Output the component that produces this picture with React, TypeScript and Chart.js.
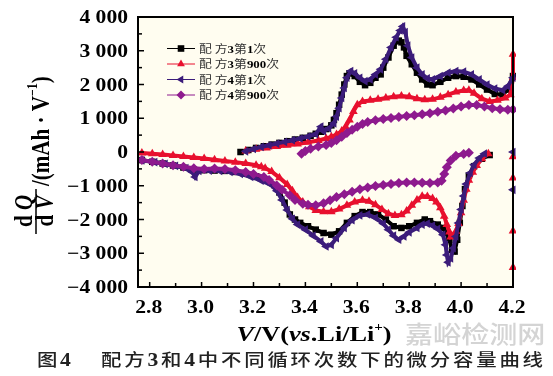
import React, { useEffect, useRef } from 'react';
import { Chart, registerables } from 'chart.js';

Chart.register(...registerables);

// ---------- axis ticks ----------
const xTicks = [2.8, 3.0, 3.2, 3.4, 3.6, 3.8, 4.0, 4.2];
const xMinorTicks = [2.9, 3.1, 3.3, 3.5, 3.7, 3.9, 4.1];
const yTicks = [-4000, -3000, -2000, -1000, 0, 1000, 2000, 3000, 4000];
const yMinorTicks = [-3500, -2500, -1500, -500, 500, 1500, 2500, 3500];

const seriesLabels = [
  ['配 方', '3', '第', '1', '次'],
  ['配 方', '3', '第', '900', '次'],
  ['配 方', '4', '第', '1', '次'],
  ['配 方', '4', '第', '900', '次'],
];

// ---------- data: [V, dQ/dV] ----------
// 配方3 第1次
const f3c1Charge = [[3.15,0],[3.18,60],[3.21,120],[3.24,170],[3.27,220],[3.30,270],[3.33,320],[3.36,370],[3.39,420],[3.42,480],[3.44,540],[3.46,600],[3.48,680],[3.50,790],[3.51,950],[3.52,1150],[3.53,1400],[3.54,1700],[3.55,2000],[3.56,2250],[3.57,2330],[3.59,2250],[3.61,2080],[3.63,1980],[3.65,2050],[3.67,2200],[3.69,2300],[3.70,2500],[3.72,2800],[3.74,3150],[3.76,3300],[3.77,3250],[3.78,3100],[3.79,2850],[3.81,2600],[3.83,2350],[3.85,2150],[3.87,2000],[3.89,1980],[3.92,2080],[3.95,2200],[3.98,2250],[4.01,2230],[4.04,2150],[4.07,2000],[4.10,1850],[4.13,1720],[4.16,1700],[4.18,1850],[4.20,2250]];
const f3c1Discharge = [[4.11,-90],[4.08,-200],[4.05,-420],[4.03,-700],[4.015,-1100],[4.005,-1600],[3.995,-2100],[3.985,-2600],[3.975,-2950],[3.965,-2900],[3.955,-2600],[3.945,-2400],[3.93,-2250],[3.91,-2150],[3.88,-2050],[3.86,-2000],[3.83,-2100],[3.80,-2200],[3.77,-2250],[3.74,-2200],[3.71,-2000],[3.68,-1850],[3.65,-1780],[3.62,-1780],[3.59,-1900],[3.56,-2100],[3.53,-2350],[3.50,-2450],[3.47,-2400],[3.44,-2300],[3.41,-2200],[3.38,-2100],[3.36,-2000],[3.34,-1850],[3.32,-1500],[3.30,-1200],[3.28,-980],[3.25,-830],[3.21,-720],[3.17,-640],[3.13,-590],[3.09,-560],[3.05,-550],[3.01,-540],[2.97,-520],[2.93,-460],[2.89,-400],[2.85,-340],[2.81,-290],[2.77,-240]];

// 配方3 第900次
const f3c900Charge = [[3.17,30],[3.21,80],[3.25,120],[3.29,160],[3.33,200],[3.37,240],[3.41,290],[3.45,340],[3.48,400],[3.50,450],[3.52,520],[3.54,620],[3.555,750],[3.57,950],[3.585,1200],[3.60,1400],[3.62,1500],[3.65,1530],[3.68,1560],[3.71,1600],[3.74,1640],[3.77,1660],[3.80,1640],[3.83,1580],[3.86,1550],[3.89,1560],[3.92,1620],[3.95,1700],[3.98,1780],[4.01,1820],[4.03,1830],[4.05,1740],[4.08,1580],[4.11,1500],[4.14,1530],[4.17,1600],[4.19,1700],[4.20,2200],[4.20,2900]];
const f3c900Edge = [[4.20,-140],[4.20,-770],[4.20,-2340],[4.20,-3420]];
const f3c900Discharge = [[4.105,-50],[4.08,-200],[4.06,-400],[4.045,-600],[4.03,-840],[4.02,-1100],[4.01,-1430],[4.00,-1800],[3.99,-2120],[3.98,-2350],[3.97,-2480],[3.96,-2520],[3.955,-2370],[3.945,-2150],[3.935,-1900],[3.92,-1650],[3.905,-1480],[3.89,-1380],[3.87,-1320],[3.85,-1310],[3.83,-1420],[3.81,-1580],[3.79,-1750],[3.77,-1860],[3.745,-1880],[3.72,-1830],[3.695,-1700],[3.67,-1560],[3.645,-1460],[3.62,-1430],[3.59,-1480],[3.56,-1580],[3.53,-1690],[3.50,-1770],[3.47,-1770],[3.44,-1730],[3.415,-1620],[3.39,-1480],[3.37,-1350],[3.35,-1150],[3.33,-960],[3.30,-760],[3.27,-580],[3.245,-480],[3.23,-440],[3.21,-390],[3.17,-340],[3.13,-300],[3.09,-265],[3.05,-230],[3.01,-195],[2.97,-160],[2.93,-130],[2.89,-100],[2.85,-75],[2.81,-50],[2.77,-30]];

// 配方4 第1次
const f4c1Charge = [[3.17,20],[3.20,90],[3.23,150],[3.26,200],[3.29,250],[3.32,300],[3.35,350],[3.38,400],[3.41,460],[3.44,530],[3.46,750],[3.47,620],[3.49,700],[3.51,850],[3.52,1050],[3.53,1300],[3.54,1600],[3.55,1900],[3.56,2200],[3.575,2400],[3.59,2330],[3.61,2200],[3.63,2100],[3.65,2150],[3.67,2300],[3.69,2450],[3.71,2750],[3.73,3100],[3.75,3400],[3.765,3600],[3.775,3720],[3.785,3550],[3.795,3150],[3.81,2800],[3.83,2500],[3.85,2300],[3.87,2180],[3.89,2150],[3.92,2250],[3.95,2350],[3.98,2400],[4.01,2380],[4.04,2300],[4.07,2150],[4.10,2000],[4.13,1880],[4.16,1830],[4.18,1950],[4.20,2200]];
const f4c1Edge = [[4.20,0],[4.20,-1120]];
const f4c1Discharge = [[4.09,-50],[4.07,-180],[4.05,-380],[4.035,-620],[4.02,-950],[4.01,-1300],[4.00,-1700],[3.99,-2100],[3.98,-2500],[3.97,-2850],[3.96,-3150],[3.95,-3270],[3.945,-3050],[3.94,-2750],[3.93,-2450],[3.91,-2280],[3.89,-2180],[3.87,-2120],[3.85,-2150],[3.83,-2250],[3.80,-2380],[3.78,-2500],[3.76,-2600],[3.74,-2480],[3.72,-2300],[3.70,-2120],[3.67,-1950],[3.64,-1850],[3.61,-1880],[3.58,-2020],[3.55,-2250],[3.52,-2550],[3.50,-2750],[3.48,-2800],[3.46,-2650],[3.43,-2480],[3.40,-2300],[3.37,-2150],[3.35,-1980],[3.33,-1720],[3.31,-1420],[3.29,-1150],[3.27,-980],[3.23,-850],[3.19,-740],[3.15,-650],[3.11,-590],[3.07,-560],[3.03,-550],[2.99,-560],[2.975,-740],[2.965,-600],[2.94,-480],[2.90,-410],[2.86,-350],[2.82,-300],[2.77,-250]];

// 配方4 第900次
const f4c900Charge = [[3.385,-50],[3.40,30],[3.42,100],[3.45,160],[3.48,210],[3.50,270],[3.52,350],[3.54,450],[3.56,560],[3.58,660],[3.60,750],[3.62,830],[3.64,890],[3.67,940],[3.70,980],[3.73,1010],[3.76,1040],[3.79,1070],[3.82,1090],[3.85,1120],[3.88,1150],[3.91,1190],[3.94,1230],[3.97,1290],[4.00,1350],[4.03,1390],[4.06,1390],[4.09,1350],[4.12,1300],[4.15,1270],[4.18,1250],[4.20,1260]];
const f4c900Discharge = [[4.03,-20],[4.01,-60],[3.98,-110],[3.96,-250],[3.945,-450],[3.935,-650],[3.925,-850],[3.91,-900],[3.88,-920],[3.85,-910],[3.82,-900],[3.79,-900],[3.76,-920],[3.73,-950],[3.70,-980],[3.67,-1010],[3.64,-1050],[3.61,-1100],[3.58,-1180],[3.55,-1250],[3.52,-1330],[3.495,-1430],[3.47,-1520],[3.44,-1580],[3.41,-1560],[3.39,-1530],[3.36,-1420],[3.34,-1280],[3.31,-1120],[3.29,-990],[3.26,-830],[3.24,-740],[3.20,-650],[3.17,-590],[3.13,-540],[3.09,-500],[3.05,-490],[3.01,-500],[2.97,-480],[2.93,-440],[2.89,-390],[2.85,-340],[2.81,-290],[2.77,-240]];

const colors = ['#000000', '#E8102E', '#3B1C7A', '#8E1A8E'];

const SERIF = '"Liberation Serif", "Times New Roman", serif';
const CJK = '"Noto Sans CJK SC", "Noto Sans", sans-serif';
const SX = 1.2;
const PLOT_BG = '#FFFDF0';

const pts = (arr: number[][]) => arr.map(([x, y]) => ({ x, y }));
const GAP = (x: number) => ({ x, y: null as any });
// isolated points (each separated by a gap, no connecting line)
const isolated = (arr: number[][]) => arr.flatMap(([x, y]) => [GAP(x), { x, y }]);

type Run = { t: string; f: string; dy?: number; c?: string };

function runsWidth(ctx: CanvasRenderingContext2D, runs: Run[]) {
  let w = 0;
  for (const r of runs) { ctx.font = r.f; w += ctx.measureText(r.t).width; }
  return w;
}
function drawRuns(ctx: CanvasRenderingContext2D, runs: Run[], x: number, y: number, sx: number, align: string, color = '#000') {
  const w = runsWidth(ctx, runs);
  ctx.save();
  ctx.translate(x, y);
  ctx.scale(sx, 1);
  let cx = align === 'left' ? 0 : align === 'center' ? -w / 2 : -w;
  ctx.textAlign = 'left';
  ctx.textBaseline = 'alphabetic';
  for (const r of runs) {
    ctx.font = r.f;
    ctx.fillStyle = r.c || color;
    ctx.fillText(r.t, cx, r.dy || 0);
    cx += ctx.measureText(r.t).width;
  }
  ctx.restore();
}

function fmtY(v: number) {
  if (v === 0) return '0';
  const a = Math.abs(v);
  const s = Math.floor(a / 1000) + ' ' + String(a % 1000).padStart(3, '0');
  return (v < 0 ? '\u2212' : '') + s;
}

function marker(ctx: CanvasRenderingContext2D, kind: number, x: number, y: number, color: string) {
  ctx.fillStyle = color;
  ctx.beginPath();
  const r = 4.5;
  if (kind === 0) {
    ctx.rect(x - 3.3, y - 3.3, 6.6, 6.6);
  } else if (kind === 1) {
    ctx.moveTo(x, y - r); ctx.lineTo(x + r * 0.866, y + r / 2); ctx.lineTo(x - r * 0.866, y + r / 2);
  } else if (kind === 2) {
    ctx.moveTo(x - r, y); ctx.lineTo(x + r / 2, y - r * 0.866); ctx.lineTo(x + r / 2, y + r * 0.866);
  } else {
    ctx.moveTo(x, y - r); ctx.lineTo(x + r, y); ctx.lineTo(x, y + r); ctx.lineTo(x - r, y);
  }
  ctx.closePath();
  ctx.fill();
}

const decorPlugin = {
  id: 'decor',
  beforeDraw(chart: any) {
    const { ctx, chartArea: a, width, height } = chart;
    ctx.save();
    ctx.fillStyle = '#ffffff';
    ctx.fillRect(0, 0, width, height);
    ctx.fillStyle = PLOT_BG;
    ctx.fillRect(a.left, a.top, a.right - a.left, a.bottom - a.top);
    ctx.restore();
  },
  afterDraw(chart: any) {
    const { ctx, chartArea: a, scales } = chart;
    const xs = scales.x, ys = scales.y;
    ctx.save();
    ctx.strokeStyle = '#000';
    ctx.lineWidth = 1.5;
    const seg = (x1: number, y1: number, x2: number, y2: number) => {
      ctx.beginPath(); ctx.moveTo(x1, y1); ctx.lineTo(x2, y2); ctx.stroke();
    };
    for (const v of yTicks) { const p = ys.getPixelForValue(v); seg(a.left, p, a.left + 6, p); }
    for (const v of yMinorTicks) { const p = ys.getPixelForValue(v); seg(a.left, p, a.left + 4, p); }
    for (const v of xTicks) { const p = xs.getPixelForValue(v); seg(p, a.bottom, p, a.bottom - 5); }
    for (const v of xMinorTicks) { const p = xs.getPixelForValue(v); seg(p, a.bottom, p, a.bottom - 4); }
    ctx.lineWidth = 2;
    ctx.strokeRect(a.left, a.top, a.right - a.left, a.bottom - a.top);

    // tick labels
    const tickFont = `bold 18px ${SERIF}`;
    for (const v of yTicks) {
      const p = ys.getPixelForValue(v);
      drawRuns(ctx, [{ t: fmtY(v), f: tickFont }], a.left - 10, p + 6, SX, 'right');
    }
    for (const v of xTicks) {
      const p = xs.getPixelForValue(v);
      drawRuns(ctx, [{ t: v.toFixed(1), f: tickFont }], p - 1, a.bottom + 26, SX, 'center');
    }

    // x title
    const tb = `bold 21px ${SERIF}`, ti = `italic bold 21px ${SERIF}`, ts = `bold 12px ${SERIF}`;
    drawRuns(ctx, [
      { t: 'V', f: ti }, { t: '/V(', f: tb }, { t: 'vs', f: ti }, { t: '.Li/Li', f: tb },
      { t: '+', f: ts, dy: -10 }, { t: ')', f: tb },
    ], 314, 341, 1.25, 'center');

    // y title (rotated)
    const rot = (sx: number, sy: number, runs: Run[], align: string) => {
      ctx.save();
      ctx.translate(sx, sy);
      ctx.rotate(-Math.PI / 2);
      ctx.scale(1, SX);
      drawRuns(ctx, runs, 0, 0, 1, align);
      ctx.restore();
    };
    rot(32, 211, [{ t: 'd ', f: tb }, { t: 'Q', f: ti }], 'center');
    rot(53, 211, [{ t: 'd ', f: tb }, { t: 'V', f: ti }], 'center');
    ctx.lineWidth = 1.5;
    seg(36, 189, 36, 234);
    rot(49, 186, [{ t: '/(mAh \u00b7 V', f: tb }, { t: '\u22121', f: ts, dy: -10 }, { t: ')', f: tb }], 'left');

    // legend
    const rows = [48.5, 64, 79.5, 95];
    const cjkL = `400 11px ${CJK}`, digL = `bold 11px ${SERIF}`;
    rows.forEach((ry, i) => {
      ctx.strokeStyle = colors[i];
      ctx.lineWidth = 1;
      seg(167, ry, 195, ry);
      marker(ctx, i, 181, ry, colors[i]);
      const parts = seriesLabels[i];
      drawRuns(ctx, parts.map((t, k) => ({
        t, f: k % 2 === 0 ? cjkL : digL, c: k % 2 === 0 ? '#333' : '#000',
      })), 199, ry + 4, 1.17, 'left');
    });

    // caption
    const capC = `500 17px ${CJK}`, capD = `bold 18px ${SERIF}`;
    drawRuns(ctx, [{ t: '图', f: capC, c: '#222' }], 37, 366, SX, 'left');
    drawRuns(ctx, [{ t: '4', f: capD, c: '#222' }], 60, 366, SX, 'left');
    const glyphs = ['配', '方', '3', '和', '4', '中', '不', '同', '循', '环', '次', '数', '下', '的', '微', '分', '容', '量', '曲', '线'];
    const isD = (g: string) => /[0-9]/.test(g);
    let total = 0;
    const ws = glyphs.map((g) => { ctx.font = isD(g) ? capD : capC; const w = ctx.measureText(g).width * SX; total += w; return w; });
    const startX = 101, endX = 543;
    const gap = (endX - startX - total) / (glyphs.length - 1);
    let cx = startX;
    glyphs.forEach((g, k) => {
      drawRuns(ctx, [{ t: g, f: isD(g) ? capD : capC, c: '#222' }], cx, 366, SX, 'left');
      cx += ws[k] + gap;
    });

    // watermark
    drawRuns(ctx, [{ t: '嘉峪检测网', f: `500 24px ${CJK}`, c: '#d4d4d4' }], 405, 343, 1.17, 'left');
    ctx.restore();
  },
};

function makeDataset(i: number, data: any[], order: number) {
  const styles = ['rect', 'triangle', 'triangle', 'rectRot'];
  return {
    label: seriesLabels[i].join(''),
    data,
    showLine: true,
    spanGaps: false,
    borderColor: colors[i],
    backgroundColor: colors[i],
    pointBackgroundColor: colors[i],
    pointBorderColor: colors[i],
    pointBorderWidth: 0,
    borderWidth: 4,
    pointStyle: styles[i],
    rotation: i === 2 ? -90 : 0,
    pointRadius: i === 0 ? 4.6 : 5,
    order,
    clip: 3,
  };
}

export default function App() {
  const ref = useRef<HTMLCanvasElement | null>(null);
  useEffect(() => {
    if (!ref.current) return;
    const chart = new Chart(ref.current, {
      type: 'scatter',
      data: {
        datasets: [
          makeDataset(0, [...pts(f3c1Charge), GAP(4.15), ...pts(f3c1Discharge)], 4),
          makeDataset(1, [...pts(f3c900Charge), ...isolated(f3c900Edge), GAP(4.15), ...pts(f3c900Discharge)], 3),
          makeDataset(2, [...pts(f4c1Charge), ...isolated(f4c1Edge), GAP(4.15), ...pts(f4c1Discharge)], 2),
          makeDataset(3, [...pts(f4c900Charge), GAP(4.1), ...pts(f4c900Discharge)], 1),
        ] as any,
      },
      options: {
        responsive: false,
        animation: false,
        devicePixelRatio: 1,
        layout: { padding: { left: 138, top: 17, right: 40, bottom: 89 } },
        scales: {
          x: { type: 'linear', display: false, min: 2.755, max: 4.2 },
          y: { type: 'linear', display: false, min: -4000, max: 4000 },
        },
        plugins: { legend: { display: false }, tooltip: { enabled: false } },
        elements: { line: { tension: 0 } },
      } as any,
      plugins: [decorPlugin],
    });
    return () => chart.destroy();
  }, []);
  return (
    <div style={{ position: 'fixed', left: 0, top: 0, width: 553, height: 376, background: '#fff' }}>
      <canvas ref={ref} width={553} height={376} style={{ width: 553, height: 376, display: 'block' }} />
    </div>
  );
}
